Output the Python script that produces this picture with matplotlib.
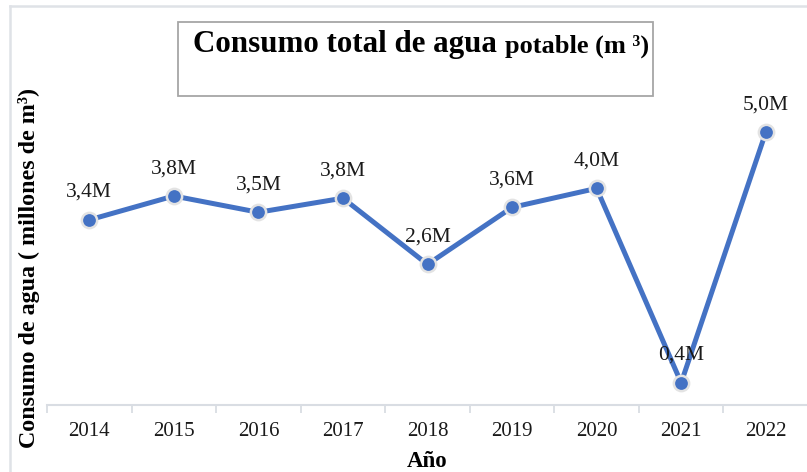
import matplotlib
matplotlib.use('Agg')
import matplotlib.pyplot as plt
from matplotlib.patches import Rectangle
from matplotlib.lines import Line2D

years = ['2014', '2015', '2016', '2017', '2018', '2019', '2020', '2021', '2022']
consumo = [3.40, 3.84, 3.54, 3.80, 2.58, 3.63, 3.98, 0.40, 5.01]  # millones de m3
etiquetas = ['3,4M', '3,8M', '3,5M', '3,8M', '2,6M', '3,6M', '4,0M', '0,4M', '5,0M']

plt.rcParams['font.family'] = ['Liberation Serif', 'DejaVu Serif']

W, H = 807, 472
fig = plt.figure(figsize=(W / 100, H / 100), dpi=100)

# plot area: categories span x 47..808 px, y=0 at 404.5 px
left = 47 / W
bottom = (H - 404.5) / H
top = (H - 78.7) / H
ax = fig.add_axes([left, bottom, 761 / W, top - bottom])

x = list(range(len(years)))
ax.plot(x, consumo, color='#4472C4', linewidth=3.6, marker='o', markersize=11,
        markerfacecolor='#4472C4', markeredgecolor='#e3e3e3', markeredgewidth=1.8,
        solid_capstyle='round', zorder=3)

for xi, yi, lab in zip(x, consumo, etiquetas):
    ax.annotate(lab, (xi, yi), xytext=(0, 16.5), textcoords='offset points',
                ha='center', va='baseline', fontsize=15.5, color='#1a1a1a', zorder=4)

ax.set_xlim(-0.5, len(years) - 0.5)
ax.set_ylim(0, 6)

# boundary ticks (major) and centered labels (minor)
ax.set_xticks([i - 0.5 for i in range(len(years) + 1)])
ax.set_xticklabels([])
ax.set_xticks(x, minor=True)
ax.set_xticklabels(years, minor=True, fontsize=15, color='#1a1a1a')
ax.tick_params(axis='x', which='major', length=6, width=1.3, color='#d9dde3', direction='out')
ax.tick_params(axis='x', which='minor', length=0, pad=12.5)
ax.set_yticks([])

for s in ['top', 'right', 'left']:
    ax.spines[s].set_visible(False)
ax.spines['bottom'].set_color('#d9dde3')
ax.spines['bottom'].set_linewidth(1.5)

ax.set_xlabel('Año', fontsize=16.5, fontweight='bold', labelpad=7.5)

fig.text(29 / W, 1 - 268 / H, 'Consumo de agua ( millones de m³)', rotation=90,
         ha='center', va='center', fontsize=17.3, fontweight='bold')

# title box
fig.add_artist(Rectangle((178 / W, 1 - 96 / H), (653 - 178) / W, (96 - 22) / H,
                         transform=fig.transFigure, fill=False,
                         edgecolor='#a6a6a6', linewidth=1.3))
t1 = fig.text(193 / W, 1 - 59 / H, 'Consumo total de agua ', ha='left', va='bottom',
              fontsize=22.3, fontweight='bold')
fig.canvas.draw()
bb = t1.get_window_extent()
fig.text(bb.x1 / W, 1 - 58 / H, 'potable (m ³)', ha='left', va='bottom',
         fontsize=19, fontweight='bold')

# outer chart border (only left and top visible)
fig.add_artist(Line2D([10 / W, 10 / W], [-0.1, 1 - 6 / H], transform=fig.transFigure,
                      color='#dfe2e7', linewidth=1.8))
fig.add_artist(Line2D([10 / W, 1.1], [1 - 6 / H, 1 - 6 / H], transform=fig.transFigure,
                      color='#dfe2e7', linewidth=1.8))

fig.savefig('out.png', dpi=100)
